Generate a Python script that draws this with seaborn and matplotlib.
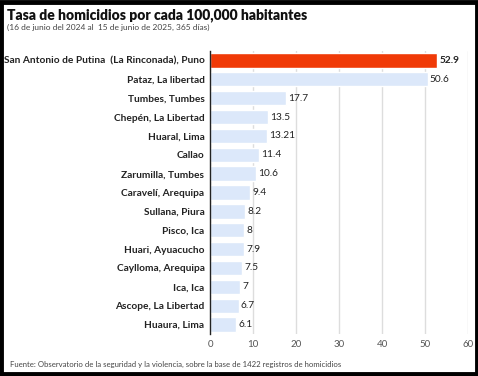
import matplotlib
matplotlib.use("Agg")
import matplotlib.pyplot as plt
import seaborn as sns
import pandas as pd

categories = [
    "San Antonio de Putina  (La Rinconada), Puno",
    "Pataz, La libertad",
    "Tumbes, Tumbes",
    "Chepén, La Libertad",
    "Huaral, Lima",
    "Callao",
    "Zarumilla, Tumbes",
    "Caravelí, Arequipa",
    "Sullana, Piura",
    "Pisco, Ica",
    "Huari, Ayuacucho",
    "Caylloma, Arequipa",
    "Ica, Ica",
    "Ascope, La Libertad",
    "Huaura, Lima",
]
values = [52.9, 50.6, 17.7, 13.5, 13.21, 11.4, 10.6, 9.4, 8.2, 8, 7.9, 7.5, 7, 6.7, 6.1]
value_labels = ["52.9", "50.6", "17.7", "13.5", "13.21", "11.4", "10.6", "9.4",
                "8.2", "8", "7.9", "7.5", "7", "6.7", "6.1"]
x_ticks = [0, 10, 20, 30, 40, 50, 60]

title = "Tasa de homicidios por cada 100,000 habitantes"
subtitle = "(16 de junio del 2024 al  15 de junio de 2025, 365 días)"
source = "Fuente: Observatorio de la seguridad y la violencia, sobre la base de 1422 registros de homicidios"

sns.set_theme(style="white")
plt.rcParams["font.family"] = ["Lato", "DejaVu Sans"]

df = pd.DataFrame({"cat": categories, "val": values})
palette = ["#F03A07"] + ["#DCE8FA"] * (len(categories) - 1)

fig = plt.figure(figsize=(4.78, 3.76), dpi=100, facecolor="white")
ax = fig.add_axes([210 / 478, 1 - 334 / 376, (468 - 210) / 478, (334 - 51) / 376])

sns.barplot(data=df, x="val", y="cat", hue="cat", palette=palette, legend=False,
            ax=ax, width=0.76, saturation=1, zorder=2)

ax.set_xlim(0, 60)
ax.set_ylim(len(categories) - 0.5, -0.5)
ax.set_xticks(x_ticks)
ax.set_xticklabels([str(t) for t in x_ticks], fontsize=7, color="#555555")
ax.tick_params(axis="x", length=0, pad=4)
ax.tick_params(axis="y", length=0, pad=4)
ax.set_yticks(range(len(categories)))
ax.set_yticklabels(categories, fontsize=7.3, fontweight="bold", color="#222222")
ax.set_xlabel("")
ax.set_ylabel("")
ax.grid(axis="x", color="#DDDDDD", linewidth=1.0, zorder=0)
for s in ["top", "right", "bottom"]:
    ax.spines[s].set_visible(False)
ax.spines["left"].set_color("#222222")
ax.spines["left"].set_linewidth(1.0)
ax.spines["left"].set_zorder(3)

for i, (v, lab) in enumerate(zip(values, value_labels)):
    ax.text(v + 0.5, i, lab, va="center", ha="left", fontsize=7.3,
            fontweight="bold" if i == 0 else "normal", color="#222222")

fig.text(7 / 478, 1 - 15 / 376, title, fontsize=10, fontweight="heavy",
         color="#111111", va="center", ha="left")
fig.text(7 / 478, 1 - 27 / 376, subtitle, fontsize=6, color="#444444",
         va="center", ha="left")
fig.text(10 / 478, 1 - 364 / 376, source, fontsize=5.6, color="#444444",
         va="center", ha="left")

border = plt.Rectangle((0.003, 0.004), 0.994, 0.992, transform=fig.transFigure,
                       fill=False, edgecolor="black", linewidth=3.5)
fig.add_artist(border)

fig.savefig("out.png", dpi=100, facecolor="white")
